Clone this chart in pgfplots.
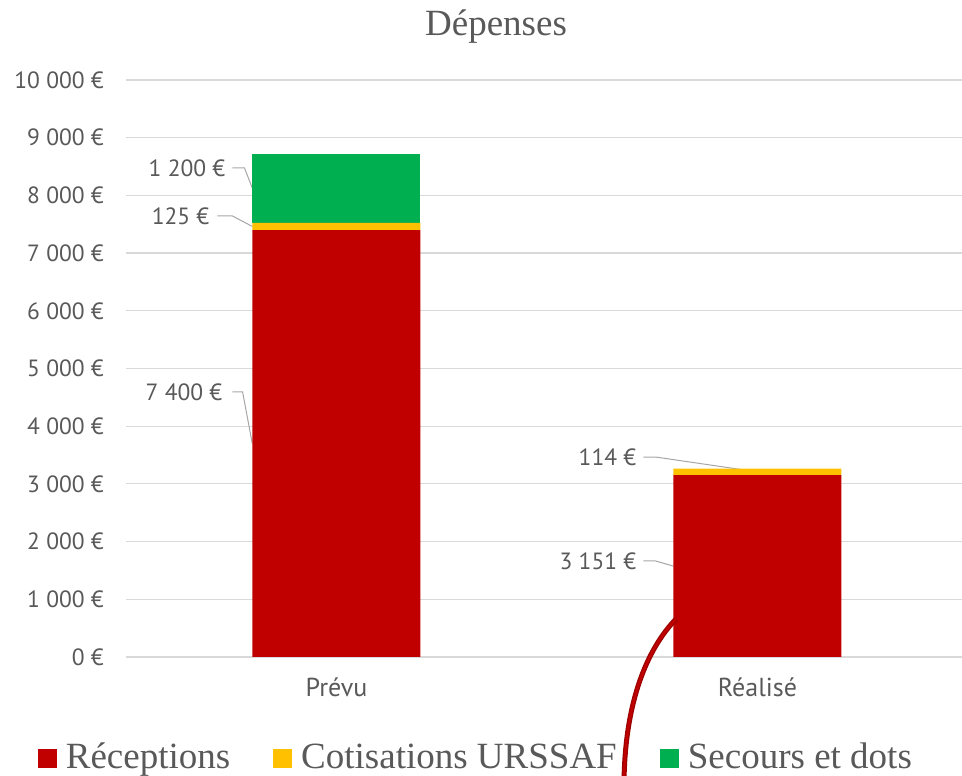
\documentclass[border=0pt]{standalone}
\usepackage{fontspec}
\setmainfont{Liberation Serif}
\newfontfamily\tickfont{PT Sans}
\usepackage{pgfplots}
\pgfplotsset{compat=1.18}
\definecolor{cRec}{HTML}{C00000}
\definecolor{cCot}{HTML}{FFC000}
\definecolor{cSec}{HTML}{00B050}
\definecolor{cGrid}{HTML}{D9D9D9}
\definecolor{cTxt}{HTML}{595959}
\definecolor{cLead}{HTML}{A6A6A6}
\tikzset{lab/.style={font=\tickfont\fontsize{23.5}{26}\selectfont, text=cTxt, inner sep=0pt, anchor=east}}
\begin{document}
\begin{tikzpicture}
\begin{axis}[
  at={(126pt,119pt)}, anchor=south west,
  width=836pt, height=577pt, scale only axis,
  xmin=-0.5, xmax=1.486, ymin=0, ymax=10000,
  ybar stacked, bar width=168pt,
  axis line style={draw=none},
  major tick length=0pt,
  scaled y ticks=false,
  ymajorgrids, grid style={color=cGrid, line width=1.2pt},
  xtick={0,1}, xticklabels={Prévu,Réalisé},
  ytick={0,1000,...,10000},
  yticklabels={0 €,1 000 €,2 000 €,3 000 €,4 000 €,5 000 €,6 000 €,7 000 €,8 000 €,9 000 €,10 000 €},
  yticklabel style={font=\tickfont\fontsize{23.5}{26}\selectfont, text=cTxt, inner sep=0pt, xshift=-22pt},
  xticklabel style={font=\tickfont\fontsize{26}{28}\selectfont, text=cTxt, inner sep=0pt, yshift=-21pt},
  title={Dépenses},
  title style={at={(axis description cs:0.4426,1.082)}, anchor=center, font=\fontsize{37}{40}\selectfont, text=cTxt, inner sep=0pt},
  legend columns=3,
  legend style={at={(axis description cs:0.4185,-0.173)}, anchor=center, draw=none, fill=none,
    font=\fontsize{37}{40}\selectfont, text=cTxt,
    /tikz/every odd column/.append style={column sep=7pt},
    /tikz/every even column/.append style={column sep=41pt}},
  legend image code/.code={\fill[#1] (0pt,-11pt) rectangle (19pt,8pt);},
  clip=false,
]
\addplot[draw=none, fill=cRec] coordinates {(0,7400) (1,3151)};
\addplot[draw=none, fill=cCot] coordinates {(0,125) (1,114)};
\addplot[draw=none, fill=cSec] coordinates {(0,1200) (1,0)};
\legend{Réceptions,Cotisations URSSAF,Secours et dots}
\node[lab] at (axis cs:-0.2637,8475) {1 200 €};
\node[lab] at (axis cs:-0.3017,7643) {125 €};
\node[lab] at (axis cs:-0.2708,4593) {7 400 €};
\node[lab] at (axis cs:0.7126,3466) {114 €};
\node[lab] at (axis cs:0.7126,1664) {3 151 €};
\draw[cLead, line width=1pt] (axis cs:-0.247,8475) -- (axis cs:-0.2185,8475) -- (axis cs:-0.2,8128);
\draw[cLead, line width=1pt] (axis cs:-0.283,7643) -- (axis cs:-0.247,7643) -- (axis cs:-0.2,7462);
\draw[cLead, line width=1pt] (axis cs:-0.247,4593) -- (axis cs:-0.223,4593) -- (axis cs:-0.2,3700);
\draw[cLead, line width=1pt] (axis cs:0.729,3466) -- (axis cs:0.758,3466) -- (axis cs:1.0,3208);
\draw[cLead, line width=1pt] (axis cs:0.729,1664) -- (axis cs:0.758,1664) -- (axis cs:0.8,1576);
\end{axis}
\draw[color=black!20!cRec, line width=5pt] (676pt,157pt) .. controls (648pt,128pt) and (625pt,76pt) .. (624pt,-6pt);
\draw[color=cRec, line width=2.5pt] (676pt,157pt) .. controls (648pt,128pt) and (625pt,76pt) .. (624pt,-6pt);
\pgfresetboundingbox
\path[use as bounding box] (0pt,0pt) rectangle (962pt,776pt);
\end{tikzpicture}
\end{document}
